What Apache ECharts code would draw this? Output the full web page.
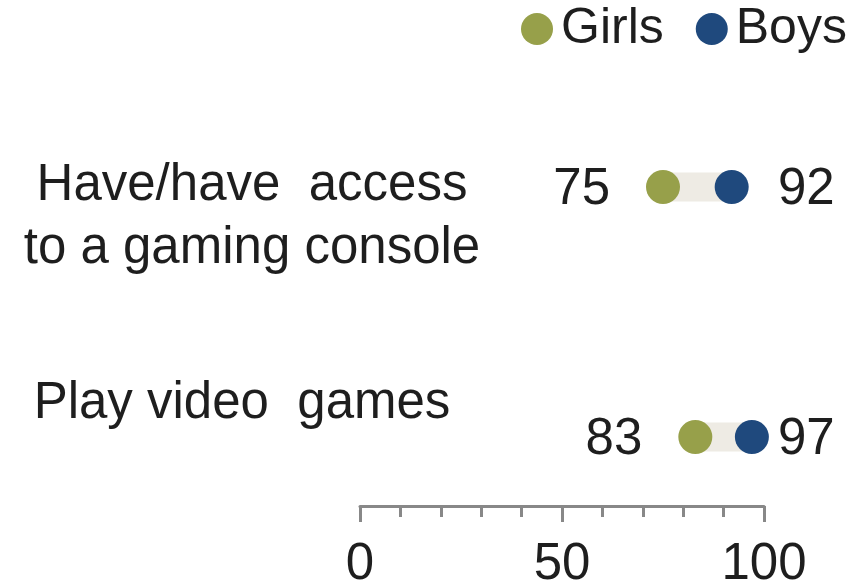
<!DOCTYPE html>
<html><head><meta charset="utf-8">
<script src="https://cdn.jsdelivr.net/npm/echarts@6/dist/echarts.min.js"></script>
<style>html,body{margin:0;padding:0;background:#fff;overflow:hidden}#c{width:861px;height:583px}</style>
</head><body><div id="c"></div>
<script>
const categories = ['Have/have  access\nto a gaming console', 'Play video  games'];
const girls = [75, 83];
const boys = [92, 97];
const xTicks = [0, 50, 100];

const FONT = 'Liberation Sans, Arial, sans-serif';
const TXT = '#1e1e1e';
const FS = 51;
const labelDx = [2, -8];
const labelDy = [30, -33];

const chart = echarts.init(document.getElementById('c'));
chart.setOption({
  animation: false,
  backgroundColor: '#fff',
  legend: {
    data: ['Girls', 'Boys'], left: 521, top: 4, padding: 0,
    icon: 'circle', itemWidth: 32, itemHeight: 32, itemGap: 32,
    textStyle: { fontSize: 50, fontFamily: FONT, color: TXT, padding: [8, 0, 0, 3] }
  },
  grid: { left: 360, width: 404, top: 187, height: 250, containLabel: false, outerBoundsMode: 'none' },
  xAxis: {
    type: 'value', min: 0, max: 100, interval: 50, position: 'bottom', offset: 69,
    axisLine: { show: true, onZero: false, lineStyle: { color: '#888', width: 3 } },
    axisTick: { show: true, length: 16, lineStyle: { color: '#888', width: 3 } },
    minorTick: { show: true, splitNumber: 5, length: 11, lineStyle: { color: '#888', width: 3 } },
    axisLabel: { margin: 33, fontSize: FS, fontFamily: FONT, color: TXT,
      formatter: v => xTicks.includes(v) ? String(v) : '' },
    splitLine: { show: false }
  },
  yAxis: {
    type: 'category', data: categories, inverse: true, boundaryGap: false,
    axisLine: { show: false }, axisTick: { show: false }, axisLabel: { show: false }, splitLine: { show: false }
  },
  series: [
    {
      type: 'custom', name: 'range', silent: true, z: 1,
      encode: { x: [0, 1], y: 2 },
      data: categories.map((c, i) => [girls[i], boys[i], i]),
      renderItem(params, api) {
        const i = api.value(2);
        const p1 = api.coord([api.value(0), i]);
        const p2 = api.coord([api.value(1), i]);
        const pEnd = api.coord([100, i]);
        const p0 = api.coord([0, i]);
        const h = 29;
        return { type: 'group', children: [
          { type: 'rect', shape: { x: p1[0], y: p1[1] - h / 2, width: p2[0] - p1[0], height: h },
            style: { fill: '#EEEBE4' } },
          { type: 'text', x: p1[0] - 53, y: p1[1] + 3,
            style: { text: String(api.value(0)), align: 'right', verticalAlign: 'middle',
              fontSize: FS, fontFamily: FONT, fill: TXT } },
          { type: 'text', x: pEnd[0] + 14, y: p2[1] + 3,
            style: { text: String(api.value(1)), align: 'left', verticalAlign: 'middle',
              fontSize: FS, fontFamily: FONT, fill: TXT } },
          { type: 'text', x: p0[0] - 110 + labelDx[i], y: p0[1] + labelDy[i],
            style: { text: categories[i], align: 'center', verticalAlign: 'middle', lineHeight: 63,
              fontSize: FS, fontFamily: FONT, fill: TXT } }
        ] };
      }
    },
    {
      type: 'scatter', name: 'Girls', z: 3, symbolSize: 34,
      itemStyle: { color: '#97A04A', opacity: 1 },
      data: girls.map((v, i) => [v, i])
    },
    {
      type: 'scatter', name: 'Boys', z: 3, symbolSize: 34,
      itemStyle: { color: '#1F497D', opacity: 1 },
      data: boys.map((v, i) => [v, i])
    }
  ]
});
</script></body></html>
